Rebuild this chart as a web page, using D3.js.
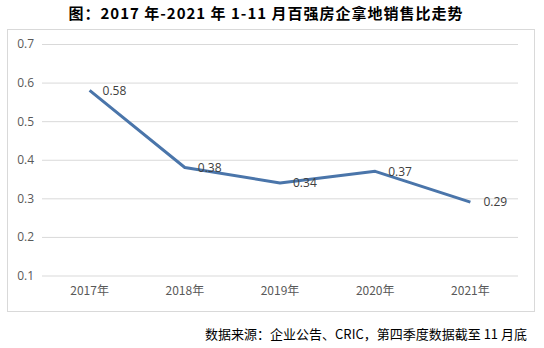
<!DOCTYPE html>
<html>
<head>
<meta charset="utf-8">
<script src="https://cdn.jsdelivr.net/npm/d3@7"></script>
<style>
  html, body { margin: 0; padding: 0; background: #fff; }
  svg { display: block; }
</style>
</head>
<body>
<svg id="chart" width="544" height="348"></svg>
<script>
// Land-acquisition / sales ratio of the top 100 developers, Jan–Nov of each year
const years = ["2017年", "2018年", "2019年", "2020年", "2021年"];
const ratios = [0.58, 0.38, 0.34, 0.37, 0.29];
const yTicks = [0.1, 0.2, 0.3, 0.4, 0.5, 0.6, 0.7];
const titleText = "图：2017 年-2021 年 1-11 月百强房企拿地销售比走势";
const sourceText = "数据来源：企业公告、CRIC，第四季度数据截至 11 月底";

const svg = d3.select("#chart");
const cjk = "'Noto Sans CJK SC', 'Noto Sans', sans-serif";

// Title
svg.append("text")
  .attr("x", 266).attr("y", 19)
  .attr("text-anchor", "middle")
  .attr("font-family", cjk)
  .attr("font-weight", "bold")
  .attr("font-size", 15)
  .attr("letter-spacing", 1)
  .attr("fill", "#000")
  .text(titleText);

// Chart frame
svg.append("rect")
  .attr("x", 7.5).attr("y", 29.5)
  .attr("width", 527).attr("height", 282)
  .attr("fill", "#fff")
  .attr("stroke", "#d9d9d9")
  .attr("stroke-width", 1);

const x = d3.scaleBand().domain(years).range([42, 518]);
const y = d3.scaleLinear().domain([0.1, 0.7]).range([275.5, 44]);

// Horizontal gridlines with value labels
const yAxis = d3.axisLeft(y)
  .tickValues(yTicks)
  .tickSize(-(518 - 42))
  .tickPadding(8)
  .tickFormat(d3.format(".1f"));

const gy = svg.append("g")
  .attr("transform", "translate(42,0)")
  .call(yAxis);
gy.select(".domain").remove();
gy.selectAll(".tick line").attr("stroke", "#d9d9d9").attr("stroke-width", 1);
gy.selectAll(".tick text")
  .attr("font-family", "'Open Sans', 'Noto Sans', sans-serif")
  .attr("font-size", 12)
  .attr("fill", "#595959");

// Category labels
const xAxis = d3.axisBottom(x).tickSize(0).tickPadding(10);
const gx = svg.append("g")
  .attr("transform", "translate(0,276)")
  .call(xAxis);
gx.select(".domain").remove();
gx.selectAll(".tick text")
  .attr("font-family", cjk)
  .attr("font-size", 12)
  .attr("fill", "#595959");

// Trend line
const pts = years.map((yr, i) => ({ yr, v: ratios[i] }));
const line = d3.line()
  .x(d => x(d.yr) + x.bandwidth() / 2)
  .y(d => y(d.v));

svg.append("path")
  .datum(pts)
  .attr("d", line)
  .attr("fill", "none")
  .attr("stroke", "#4a75aa")
  .attr("stroke-width", 3)
  .attr("stroke-linejoin", "round");

// Value labels to the right of each point
svg.append("g").selectAll("text")
  .data(pts)
  .join("text")
  .attr("x", d => x(d.yr) + x.bandwidth() / 2 + 13)
  .attr("y", d => y(d.v) + 1)
  .attr("dominant-baseline", "middle")
  .attr("font-family", "'Open Sans', 'Noto Sans', sans-serif")
  .attr("font-size", 12)
  .attr("fill", "#404040")
  .text(d => d.v.toFixed(2));

// Source note
svg.append("text")
  .attr("x", 527).attr("y", 339)
  .attr("text-anchor", "end")
  .attr("font-family", cjk)
  .attr("font-size", 13)
  .attr("fill", "#000")
  .text(sourceText);
</script>
</body>
</html>
